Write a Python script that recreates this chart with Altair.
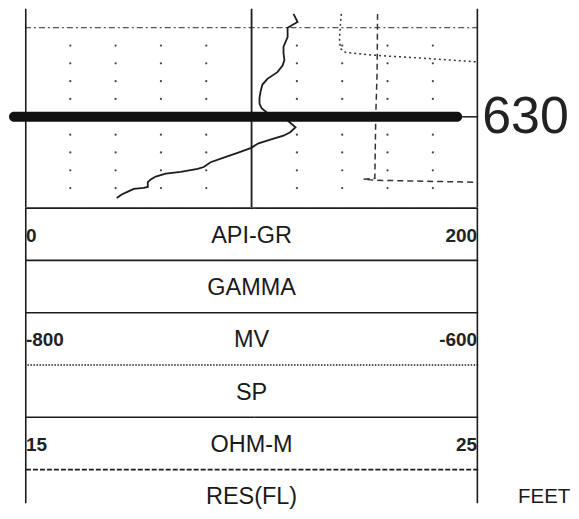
import altair as alt
import pandas as pd

# Gamma ray curve (API units, 0-200 scale) vs depth (feet)
gr_depth = [618.45, 619.36, 620.0, 621.06, 622.12, 622.87, 623.61, 624.25, 624.99, 625.74,
            626.38, 627.12, 627.87, 628.51, 629.04, 629.57, 630.0, 630.42, 631.17, 631.70,
            632.12, 632.44, 632.97, 633.51, 634.04, 634.57, 635.10, 635.63, 635.85, 636.17,
            636.38, 636.70, 637.02, 637.34, 637.87, 637.97, 638.08, 638.40, 638.72, 639.10]
gr_api = [118.5, 120.3, 115.9, 115.9, 114.1, 114.1, 114.5, 113.7, 111.4, 107.0,
          104.8, 104.0, 103.5, 103.5, 104.4, 107.0, 112.8, 115.9, 119.4, 117.2,
          114.1, 109.7, 103.1, 99.6, 93.8, 87.7, 81.9, 78.9, 76.2, 68.7,
          62.1, 57.7, 55.5, 54.2, 54.2, 52.4, 48.0, 45.4, 42.7, 40.5]

# SP curve (mV, -800 to -600 scale)
sp_depth = [618.45, 619.68, 621.27, 622.34, 622.76, 623.08, 623.40, 623.83]
sp_mv = [-660.4, -660.8, -661.2, -660.8, -658.6, -646.7, -625.6, -600.9]

# Resistivity curve (ohm-m, 15 to 25 scale)
res_depth = [618.45, 625.0, 630.0, 636.9, 637.0, 637.12, 637.34]
res_ohm = [22.78, 22.77, 22.74, 22.72, 22.47, 22.72, 24.98]

# grid
grid_gr = [20, 40, 60, 80, 120, 140, 160, 180]
grid_depth = [622, 624, 626, 628, 632, 634, 636, 638]
ten_foot_lines = [620]
center_gr = [100]
border_gr = [0, 200]

# depth marker
marker_depth = 630
marker_label = "630"
marker_bar_gr = [-7.05, 192.95]

# header panels
head_rows = [0, 1, 2, 3, 4, 5]
head_line_style = ["solid", "solid", "solid", "dotted", "solid", "dashed"]
head_names = ["API-GR", "GAMMA", "MV", "SP", "OHM-M", "RES(FL)"]
head_lo = ["0", "", "-800", "", "15", ""]
head_hi = ["200", "", "-600", "", "25", ""]
unit_label = "FEET"

# ---------------- layout / style ----------------
W, H_TRACK, H_HEAD = 454, 199, 296
DEPTH_DOMAIN = [618.4, 639.57]
ROW_DOMAIN = [0, 5.649]
INK = "#1c1c1c"
FONT = "Liberation Sans"


def xq(field, domain):
    return alt.X(f"{field}:Q", scale=alt.Scale(domain=domain, nice=False, zero=False), axis=None)


def xq2(field):
    return alt.X2(f"{field}:Q")


y_depth = alt.Y("depth:Q", scale=alt.Scale(domain=DEPTH_DOMAIN, reverse=True, nice=False, zero=False), axis=None)

gr_df = pd.DataFrame({"depth": gr_depth, "gr": gr_api, "i": range(len(gr_api))})
sp_df = pd.DataFrame({"depth": sp_depth, "mv": sp_mv, "i": range(len(sp_mv))})
res_df = pd.DataFrame({"depth": res_depth, "ohm": res_ohm, "i": range(len(res_ohm))})
grid_df = pd.DataFrame([{"gr": g, "depth": d} for g in grid_gr for d in grid_depth])
tenft_df = pd.DataFrame({"depth": ten_foot_lines})
center_df = pd.DataFrame({"gr": center_gr})
border_df = pd.DataFrame({"gr": border_gr})
marker_df = pd.DataFrame({"depth": [marker_depth], "x1": [marker_bar_gr[0]], "x2": [marker_bar_gr[1]],
                          "t1": [marker_bar_gr[1]], "t2": [200], "label": [marker_label], "edge": [200]})

GR_DOM = [0, 200]

dots = alt.Chart(grid_df).mark_circle(size=5, color="#444", opacity=1).encode(
    x=xq("gr", GR_DOM), y=y_depth)

tenft = alt.Chart(tenft_df).mark_rule(color="#555", strokeWidth=1.2, strokeDash=[6, 3, 2, 3], clip=True).encode(y=y_depth)

center = alt.Chart(center_df).mark_rule(color=INK, strokeWidth=1.8, clip=True).encode(x=xq("gr", GR_DOM))
borders = alt.Chart(border_df).mark_rule(color=INK, strokeWidth=3.2, clip=True).encode(x=xq("gr", GR_DOM))

gr_line = alt.Chart(gr_df).mark_line(color=INK, strokeWidth=1.8, clip=True).encode(
    x=xq("gr", GR_DOM), y=y_depth, order="i:Q")

sp_line = alt.Chart(sp_df).mark_line(color="#333", strokeWidth=1.5, strokeDash=[2, 3], clip=True).encode(
    x=xq("mv", [-800, -600]), y=y_depth, order="i:Q")

res_line = alt.Chart(res_df).mark_line(color="#333", strokeWidth=1.5, strokeDash=[6, 4], clip=True).encode(
    x=xq("ohm", [15, 25]), y=y_depth, order="i:Q")

marker_bar = alt.Chart(marker_df).mark_bar(color="#111", size=10, orient="horizontal", cornerRadiusEnd=5).encode(
    x=xq("x1", GR_DOM), x2=xq2("x2"), y=y_depth)

marker_tail = alt.Chart(marker_df).mark_rule(color=INK, strokeWidth=1.5).encode(
    x=xq("t1", GR_DOM), x2=xq2("t2"), y=y_depth)

marker_text = alt.Chart(marker_df).mark_text(
    align="left", baseline="alphabetic", dx=4, dy=16, fontSize=52, font=FONT, color="#222").encode(
    x=xq("edge", GR_DOM), y=y_depth, text="label:N")

track = alt.layer(
    dots, tenft, center, borders, gr_line, sp_line, res_line, marker_bar, marker_tail, marker_text
).resolve_scale(x="independent").properties(width=W, height=H_TRACK)

# ---------------- header ----------------
y_row = lambda f: alt.Y(f"{f}:Q", scale=alt.Scale(domain=ROW_DOMAIN, reverse=True, nice=False, zero=False), axis=None)

head_lines_df = pd.DataFrame({"row": head_rows, "style": head_line_style})
head_text_df = pd.DataFrame({"row": head_rows, "name": head_names, "lo": head_lo, "hi": head_hi,
                             "mid_x": 100, "lo_x": 0, "hi_x": 200})
unit_df = pd.DataFrame({"row": [head_rows[-1]], "label": [unit_label], "x": [200]})

hlines = alt.Chart(head_lines_df).mark_rule(color=INK, strokeWidth=1.6).encode(
    y=y_row("row"),
    strokeDash=alt.StrokeDash("style:N", scale=alt.Scale(domain=["solid", "dotted", "dashed"],
                                                          range=[[1, 0], [1.5, 1.5], [5, 2]]), legend=None))

hborders = alt.Chart(border_df).mark_rule(color=INK, strokeWidth=3.2, clip=True).encode(x=xq("gr", GR_DOM))

text_base = alt.Chart(head_text_df).transform_calculate(mid="datum.row + 0.53")

names = text_base.mark_text(fontSize=23.5, font=FONT, color="#1a1a1a", baseline="middle").encode(
    x=xq("mid_x", GR_DOM), y=y_row("mid"), text="name:N")
los = text_base.mark_text(fontSize=19, font=FONT, fontWeight="bold", color="#222", baseline="middle",
                          align="left", dx=1).encode(
    x=xq("lo_x", GR_DOM), y=y_row("mid"), text="lo:N")
his = text_base.mark_text(fontSize=19, font=FONT, fontWeight="bold", color="#222", baseline="middle",
                          align="right", dx=-1).encode(
    x=xq("hi_x", GR_DOM), y=y_row("mid"), text="hi:N")
unit = alt.Chart(unit_df).transform_calculate(mid="datum.row + 0.53").mark_text(
    fontSize=20.5, font=FONT, color="#1a1a1a", baseline="middle", align="left", dx=40).encode(
    x=xq("x", GR_DOM), y=y_row("mid"), text="label:N")

header = alt.layer(hlines, hborders, names, los, his, unit).properties(width=W, height=H_HEAD)

chart = alt.vconcat(track, header, spacing=0).properties(
    padding={"left": 0, "top": 0, "right": 0, "bottom": 0}, background="white"
).configure_view(stroke=None)

chart.save("out.html", embed_options={"renderer": "svg", "actions": False})
